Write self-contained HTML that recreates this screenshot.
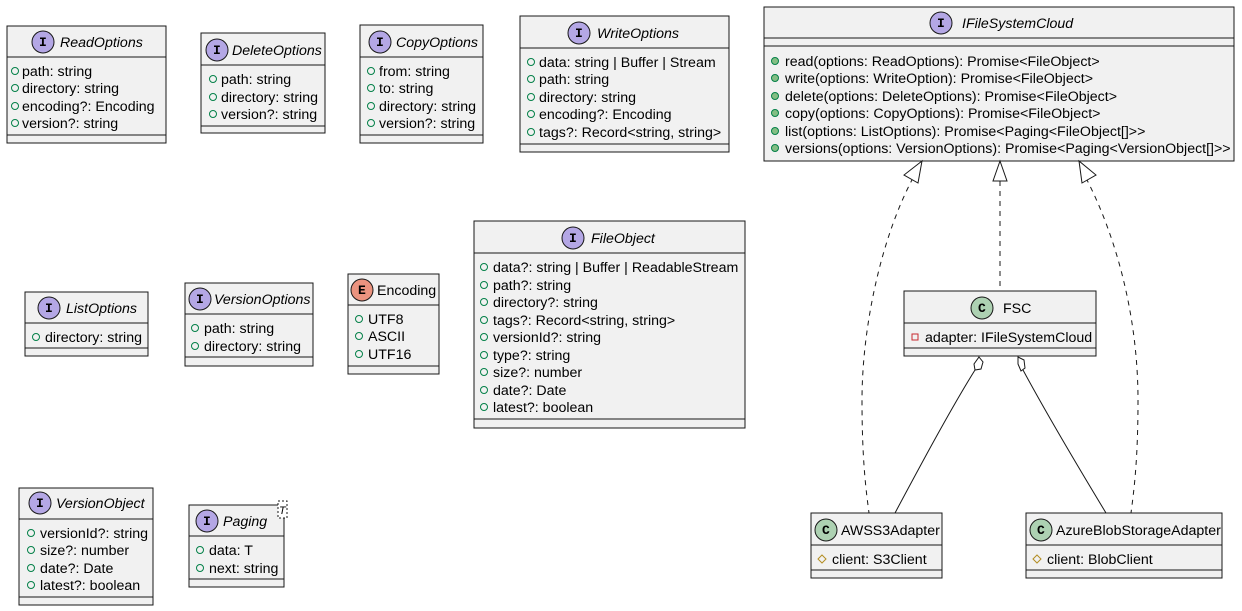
<!DOCTYPE html>
<html><head><meta charset="utf-8"><style>
html,body{margin:0;padding:0;background:#fff;}
svg{display:block;font-family:"Liberation Sans",sans-serif;}
.b{fill:#f1f1f1;stroke:#181818;stroke-width:1;}
.l{stroke:#181818;stroke-width:1;}
.t{font-size:14.2px;fill:#000;}
.ti{font-size:14.2px;font-style:italic;fill:#000;}
.vo{fill:none;stroke:#038048;stroke-width:1;}
.vm{fill:#84be84;stroke:#038048;stroke-width:1;}
.ii{fill:#b4a7e5;stroke:#181818;}
.ci{fill:#add1b2;stroke:#181818;}
.ei{fill:#eb937f;stroke:#181818;}
.il{font-size:13px;font-weight:bold;fill:#000;font-family:"Liberation Mono",monospace;}
</style></head><body>
<svg width="1242" height="611" viewBox="0 0 1242 611" xmlns="http://www.w3.org/2000/svg">

<!-- ReadOptions -->
<rect class="b" x="7" y="26" width="159" height="117"/>
<line class="l" x1="7" y1="57" x2="166" y2="57"/><line class="l" x1="7" y1="135" x2="166" y2="135"/>
<circle class="ii" cx="43" cy="42" r="11"/><text class="il" x="39" y="46">I</text>
<text class="ti" x="60" y="47">ReadOptions</text>
<g class="t"><circle class="vo" cx="15" cy="71" r="3.5"/><text x="22" y="76">path: string</text>
<circle class="vo" cx="15" cy="88" r="3.5"/><text x="22" y="93">directory: string</text>
<circle class="vo" cx="15" cy="106" r="3.5"/><text x="22" y="111">encoding?: Encoding</text>
<circle class="vo" cx="15" cy="123" r="3.5"/><text x="22" y="128">version?: string</text></g>

<!-- DeleteOptions -->
<rect class="b" x="201" y="33" width="124" height="100"/>
<line class="l" x1="201" y1="65" x2="325" y2="65"/><line class="l" x1="201" y1="126" x2="325" y2="126"/>
<circle class="ii" cx="217" cy="50" r="11"/><text class="il" x="213" y="54">I</text>
<text class="ti" x="232" y="55">DeleteOptions</text>
<g class="t"><circle class="vo" cx="213" cy="79" r="3.5"/><text x="221" y="84">path: string</text>
<circle class="vo" cx="213" cy="97" r="3.5"/><text x="221" y="102">directory: string</text>
<circle class="vo" cx="213" cy="114" r="3.5"/><text x="221" y="119">version?: string</text></g>

<!-- CopyOptions -->
<rect class="b" x="360" y="25" width="123" height="118"/>
<line class="l" x1="360" y1="57" x2="483" y2="57"/><line class="l" x1="360" y1="135" x2="483" y2="135"/>
<circle class="ii" cx="380" cy="42" r="11"/><text class="il" x="376" y="46">I</text>
<text class="ti" x="396" y="47">CopyOptions</text>
<g class="t"><circle class="vo" cx="371" cy="71" r="3.5"/><text x="379" y="76">from: string</text>
<circle class="vo" cx="371" cy="88" r="3.5"/><text x="379" y="93">to: string</text>
<circle class="vo" cx="371" cy="106" r="3.5"/><text x="379" y="111">directory: string</text>
<circle class="vo" cx="371" cy="123" r="3.5"/><text x="379" y="128">version?: string</text></g>

<!-- WriteOptions -->
<rect class="b" x="520" y="16" width="209" height="136"/>
<line class="l" x1="520" y1="48" x2="729" y2="48"/><line class="l" x1="520" y1="144" x2="729" y2="144"/>
<circle class="ii" cx="579" cy="33" r="11"/><text class="il" x="575" y="37">I</text>
<text class="ti" x="597" y="38">WriteOptions</text>
<g class="t"><circle class="vo" cx="531" cy="62" r="3.5"/><text x="539" y="67">data: string | Buffer | Stream</text>
<circle class="vo" cx="531" cy="79" r="3.5"/><text x="539" y="84">path: string</text>
<circle class="vo" cx="531" cy="97" r="3.5"/><text x="539" y="102">directory: string</text>
<circle class="vo" cx="531" cy="114" r="3.5"/><text x="539" y="119">encoding?: Encoding</text>
<circle class="vo" cx="531" cy="132" r="3.5"/><text x="539" y="137">tags?: Record&lt;string, string&gt;</text></g>

<!-- IFileSystemCloud -->
<rect class="b" x="764" y="7" width="470" height="154"/>
<line class="l" x1="764" y1="38" x2="1234" y2="38"/><line class="l" x1="764" y1="46" x2="1234" y2="46"/>
<circle class="ii" cx="941" cy="23" r="11"/><text class="il" x="937" y="27">I</text>
<text class="ti" x="962" y="28">IFileSystemCloud</text>
<g class="t"><circle class="vm" cx="775" cy="61" r="3.5"/><text x="785" y="66">read(options: ReadOptions): Promise&lt;FileObject&gt;</text>
<circle class="vm" cx="775" cy="78" r="3.5"/><text x="785" y="83">write(options: WriteOption): Promise&lt;FileObject&gt;</text>
<circle class="vm" cx="775" cy="96" r="3.5"/><text x="785" y="101">delete(options: DeleteOptions): Promise&lt;FileObject&gt;</text>
<circle class="vm" cx="775" cy="113" r="3.5"/><text x="785" y="118">copy(options: CopyOptions): Promise&lt;FileObject&gt;</text>
<circle class="vm" cx="775" cy="131" r="3.5"/><text x="785" y="136">list(options: ListOptions): Promise&lt;Paging&lt;FileObject[]&gt;&gt;</text>
<circle class="vm" cx="775" cy="148" r="3.5"/><text x="785" y="153">versions(options: VersionOptions): Promise&lt;Paging&lt;VersionObject[]&gt;&gt;</text></g>

<!-- ListOptions -->
<rect class="b" x="25" y="292" width="123" height="64"/>
<line class="l" x1="25" y1="323" x2="148" y2="323"/><line class="l" x1="25" y1="348" x2="148" y2="348"/>
<circle class="ii" cx="49" cy="308" r="11"/><text class="il" x="45" y="312">I</text>
<text class="ti" x="66" y="313">ListOptions</text>
<g class="t"><circle class="vo" cx="36" cy="337" r="3.5"/><text x="45" y="342">directory: string</text></g>

<!-- VersionOptions -->
<rect class="b" x="185" y="283" width="128" height="83"/>
<line class="l" x1="185" y1="314" x2="313" y2="314"/><line class="l" x1="185" y1="357" x2="313" y2="357"/>
<circle class="ii" cx="200" cy="299" r="11"/><text class="il" x="196" y="303">I</text>
<text class="ti" x="214" y="304">VersionOptions</text>
<g class="t"><circle class="vo" cx="195" cy="328" r="3.5"/><text x="204" y="333">path: string</text>
<circle class="vo" cx="195" cy="346" r="3.5"/><text x="204" y="351">directory: string</text></g>

<!-- Encoding -->
<rect class="b" x="348" y="274" width="91" height="100"/>
<line class="l" x1="348" y1="305" x2="439" y2="305"/><line class="l" x1="348" y1="366" x2="439" y2="366"/>
<circle class="ei" cx="362" cy="290" r="11"/><text class="il" x="358" y="294">E</text>
<text class="t" x="377" y="295">Encoding</text>
<g class="t"><circle class="vo" cx="359" cy="319" r="3.5"/><text x="368" y="324">UTF8</text>
<circle class="vo" cx="359" cy="336" r="3.5"/><text x="368" y="341">ASCII</text>
<circle class="vo" cx="359" cy="354" r="3.5"/><text x="368" y="359">UTF16</text></g>

<!-- FileObject -->
<rect class="b" x="474" y="221" width="271" height="207"/>
<line class="l" x1="474" y1="253" x2="745" y2="253"/><line class="l" x1="474" y1="419" x2="745" y2="419"/>
<circle class="ii" cx="573" cy="238" r="11"/><text class="il" x="569" y="242">I</text>
<text class="ti" x="591" y="243">FileObject</text>
<g class="t"><circle class="vo" cx="484" cy="267" r="3.5"/><text x="493" y="272">data?: string | Buffer | ReadableStream</text>
<circle class="vo" cx="484" cy="285" r="3.5"/><text x="493" y="290">path?: string</text>
<circle class="vo" cx="484" cy="302" r="3.5"/><text x="493" y="307">directory?: string</text>
<circle class="vo" cx="484" cy="320" r="3.5"/><text x="493" y="325">tags?: Record&lt;string, string&gt;</text>
<circle class="vo" cx="484" cy="337" r="3.5"/><text x="493" y="342">versionId?: string</text>
<circle class="vo" cx="484" cy="355" r="3.5"/><text x="493" y="360">type?: string</text>
<circle class="vo" cx="484" cy="372" r="3.5"/><text x="493" y="377">size?: number</text>
<circle class="vo" cx="484" cy="390" r="3.5"/><text x="493" y="395">date?: Date</text>
<circle class="vo" cx="484" cy="407" r="3.5"/><text x="493" y="412">latest?: boolean</text></g>

<!-- VersionObject -->
<rect class="b" x="19" y="488" width="134" height="117"/>
<line class="l" x1="19" y1="519" x2="153" y2="519"/><line class="l" x1="19" y1="597" x2="153" y2="597"/>
<circle class="ii" cx="40" cy="503" r="11"/><text class="il" x="36" y="507">I</text>
<text class="ti" x="56" y="508">VersionObject</text>
<g class="t"><circle class="vo" cx="31" cy="533" r="3.5"/><text x="40" y="538">versionId?: string</text>
<circle class="vo" cx="31" cy="550" r="3.5"/><text x="40" y="555">size?: number</text>
<circle class="vo" cx="31" cy="568" r="3.5"/><text x="40" y="573">date?: Date</text>
<circle class="vo" cx="31" cy="585" r="3.5"/><text x="40" y="590">latest?: boolean</text></g>

<!-- Paging -->
<rect class="b" x="189" y="505" width="95" height="82"/>
<line class="l" x1="189" y1="536" x2="284" y2="536"/><line class="l" x1="189" y1="579" x2="284" y2="579"/>
<rect x="278" y="501" width="9" height="17" fill="#fff" stroke="#181818" stroke-dasharray="2,2"/>
<text x="279" y="514" style="font-size:11px;font-style:italic">T</text>
<circle class="ii" cx="207" cy="521" r="11"/><text class="il" x="203" y="525">I</text>
<text class="ti" x="223" y="526">Paging</text>
<g class="t"><circle class="vo" cx="200" cy="550" r="3.5"/><text x="209" y="555">data: T</text>
<circle class="vo" cx="200" cy="568" r="3.5"/><text x="209" y="573">next: string</text></g>

<!-- FSC -->
<rect class="b" x="904" y="291" width="192" height="65"/>
<line class="l" x1="904" y1="323" x2="1096" y2="323"/><line class="l" x1="904" y1="348" x2="1096" y2="348"/>
<circle class="ci" cx="982" cy="308" r="11"/><text class="il" x="978" y="312">C</text>
<text class="t" x="1003" y="313">FSC</text>
<rect x="912" y="334" width="6" height="6" fill="none" stroke="#c82930"/>
<text class="t" x="925" y="342">adapter: IFileSystemCloud</text>

<!-- AWSS3Adapter -->
<rect class="b" x="811" y="513" width="131" height="65"/>
<line class="l" x1="811" y1="545" x2="942" y2="545"/><line class="l" x1="811" y1="570" x2="942" y2="570"/>
<circle class="ci" cx="826" cy="530" r="11"/><text class="il" x="822" y="534">C</text>
<text class="t" x="841" y="535">AWSS3Adapter</text>
<path d="M822,555 L826,559 L822,563 L818,559 Z" fill="none" stroke="#b38d22"/>
<text class="t" x="832" y="564">client: S3Client</text>

<!-- Azure -->
<rect class="b" x="1026" y="513" width="196" height="65"/>
<line class="l" x1="1026" y1="545" x2="1222" y2="545"/><line class="l" x1="1026" y1="570" x2="1222" y2="570"/>
<circle class="ci" cx="1041" cy="530" r="11"/><text class="il" x="1037" y="534">C</text>
<text class="t" x="1056" y="535">AzureBlobStorageAdapter</text>
<path d="M1037,555 L1041,559 L1037,563 L1033,559 Z" fill="none" stroke="#b38d22"/>
<text class="t" x="1047" y="564">client: BlobClient</text>

<!-- connectors -->
<g fill="none" stroke="#181818" stroke-width="1">
<path d="M913,178 C880,240 862,330 862,400 C862,460 866,490 869,513" stroke-dasharray="5,5"/>
<path d="M1000,181 L1000,291" stroke-dasharray="5,5"/>
<path d="M1086,178 C1118,240 1138,320 1138,400 C1138,460 1134,490 1131,513" stroke-dasharray="5,5"/>
<path d="M922,161 L904,175 L918,183 Z" fill="#fff"/>
<path d="M1000,161 L993,181 L1007,181 Z" fill="#fff"/>
<path d="M1079,161 L1082,183 L1096,175 Z" fill="#fff"/>
<path d="M975,370 C950,410 918,470 895,513"/>
<path d="M1023,370 C1050,420 1080,470 1106,513"/>
<path d="M979,357 L983,362 L981,369 L975,370 L974,364 Z" fill="#fff"/>
<path d="M1018,357 L1024,360 L1025,368 L1021,371 L1018,364 Z" fill="#fff"/>
</g>
</svg>
</body></html>
